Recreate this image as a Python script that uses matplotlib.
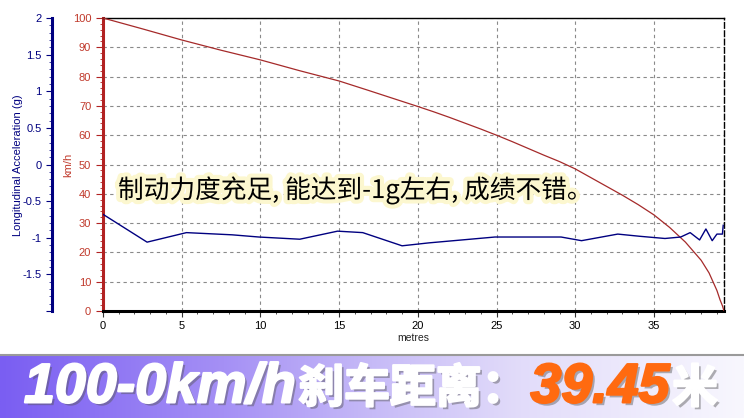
import matplotlib
matplotlib.use("Agg")
import matplotlib.pyplot as plt
import matplotlib.patheffects as pe
from matplotlib.ticker import MultipleLocator, FixedLocator, FixedFormatter
from matplotlib.colors import LinearSegmentedColormap
from matplotlib.offsetbox import TextArea, HPacker, AnchoredOffsetbox
import numpy as np

plt.rcParams['font.family'] = ['Liberation Sans', 'Noto Sans CJK SC', 'DejaVu Sans']

# ---- data ----
speed_dist = [0, 2.5, 5, 7.5, 10, 12.5, 15, 16.8, 20, 21, 22, 23, 24, 25, 26, 27, 28, 29,
              30, 31, 32, 33, 34, 35, 36, 37, 38, 38.5, 39.0, 39.2, 39.35, 39.45]
speed_kmh = [100, 96.3, 92.5, 89, 85.7, 82, 78.5, 75.4, 69.8, 68, 66.1, 64.1, 62.1, 60,
             57.8, 55.5, 53.2, 51.0, 48.5, 45.5, 42.5, 39.5, 36.3, 32.8, 28.5, 23.5,
             17.3, 13, 7.0, 3.8, 1.8, 0]

acc_dist = [0, 2.8, 5.3, 8.2, 9.9, 12.5, 14.9, 16.5, 19.0, 20.7, 24.9, 29.1, 30.4,
            32.7, 34.1, 35.7, 36.7, 37.3, 37.9, 38.3, 38.7, 39.0, 39.35, 39.4]
acc_g = [-0.68, -1.06, -0.93, -0.96, -0.99, -1.02, -0.91, -0.93, -1.11, -1.07, -0.99,
         -0.99, -1.04, -0.95, -0.98, -1.01, -0.99, -0.93, -1.03, -0.88, -1.04, -0.95,
         -0.95, -0.83]

x_ticks = [0, 5, 10, 15, 20, 25, 30, 35]
kmh_ticks = [0, 10, 20, 30, 40, 50, 60, 70, 80, 90, 100]
g_ticks = [-2, -1.5, -1, -0.5, 0, 0.5, 1, 1.5, 2]
g_labels = ['', '-1.5', '-1', '-0.5', '0', '0.5', '1', '1.5', '2']

annotation = '制动力度充足, 能达到-1g左右, 成绩不错。'
banner_parts = ['100-0km/h', '刹车距离：', '39.45', '米']

W, H = 744, 418
RED = '#a52a2a'
REDTXT = '#c0392b'
NAVY = '#000080'

fig = plt.figure(figsize=(W / 100, H / 100), dpi=100)
fig.patch.set_facecolor('white')

ax = fig.add_axes([103 / W, 1 - 311 / H, 621 / W, 293 / H])
ax.plot(speed_dist, speed_kmh, color=RED, lw=0.9, zorder=3)
ax.set_xlim(0, 39.45)
ax.set_ylim(0, 100)
ax.set_xticks(x_ticks)
ax.xaxis.set_minor_locator(MultipleLocator(1))
ax.set_yticks(kmh_ticks)
ax.yaxis.set_minor_locator(MultipleLocator(2))
ax.grid(True, which='major', ls=(0, (3, 3)), color='#8a8a8a', lw=0.8)
ax.spines['left'].set_color('#b22222')
ax.spines['left'].set_linewidth(2.2)
ax.spines['bottom'].set_color('black')
ax.spines['bottom'].set_linewidth(2.2)
ax.spines['top'].set_color('black')
ax.spines['top'].set_linewidth(1.0)
ax.spines['right'].set_color('black')
ax.spines['right'].set_linestyle((0, (4, 2)))
ax.spines['right'].set_linewidth(1.0)
ax.tick_params(axis='y', which='both', colors='#b22222', labelcolor=REDTXT, labelsize=8)
ax.tick_params(axis='y', which='major', length=5, width=0.8)
ax.tick_params(axis='y', which='minor', length=2.5, width=0.6)
ax.tick_params(axis='x', which='major', length=4, width=0.8, labelsize=8, colors='#333333', labelcolor='black')
ax.tick_params(axis='x', which='minor', length=2.5, width=0.6, colors='#333333')

ax2 = ax.twinx()
ax2.plot(acc_dist, acc_g, color=NAVY, lw=1.0, zorder=4)
ax2.set_ylim(-2, 2)
ax2.yaxis.tick_left()
ax2.yaxis.set_major_locator(FixedLocator(g_ticks))
ax2.yaxis.set_major_formatter(FixedFormatter(g_labels))
ax2.yaxis.set_minor_locator(MultipleLocator(0.1))
for s in ['right', 'top', 'bottom']:
    ax2.spines[s].set_visible(False)
ax2.spines['left'].set_position(('outward', 51 * 0.72))
ax2.spines['left'].set_color(NAVY)
ax2.spines['left'].set_linewidth(2.2)
ax2.tick_params(axis='y', which='both', colors=NAVY, labelcolor=NAVY, labelsize=8)
ax2.tick_params(axis='y', which='major', length=4, width=0.8)
ax2.tick_params(axis='y', which='minor', length=2, width=0.5)

fig.text(18 / W, 1 - 165 / H, 'Longitudinal Acceleration (g)', rotation=90,
         ha='center', va='center', color=NAVY, fontsize=8)
fig.text(68 / W, 1 - 165 / H, 'km/h', rotation=90, ha='center', va='center',
         color=REDTXT, fontsize=8)
fig.text(413 / W, 1 - 338 / H, 'metres', ha='center', va='center',
         color='#222222', fontsize=7.5)

fig.text(118 / W, 1 - 190 / H, annotation, ha='left', va='center', fontsize=18.5,
         family=['Noto Sans CJK SC', 'DejaVu Sans'], color='black', zorder=10,
         path_effects=[pe.withStroke(linewidth=6, foreground='#fcf7cf')])

# ---- banner ----
axb = fig.add_axes([0, 0, 1, 63 / H])
cmap = LinearSegmentedColormap.from_list(
    'ban', [(0, '#7a5ef2'), (0.3, '#a590f5'), (0.5, '#c6baf7'), (0.7, '#e2dcfa'),
            (1, '#f8f7fe')])
grad = np.linspace(0, 1, 256)[None, :]
axb.imshow(grad, aspect='auto', cmap=cmap, extent=[0, 1, 0, 1])
axb.set_xlim(0, 1)
axb.set_ylim(0, 1)
axb.axis('off')
fig.add_artist(plt.Line2D([0, 1], [63.5 / H, 63.5 / H], transform=fig.transFigure,
                          color='#9a9a9a', lw=1.5))

shadow = pe.SimplePatchShadow(offset=(2, -2), shadow_rgbFace='#555555', alpha=0.45)
fx_w = [shadow, pe.Stroke(linewidth=1.6, foreground='white'), pe.Normal()]
fx_o = [shadow, pe.Stroke(linewidth=1.6, foreground='#ff6a10'), pe.Normal()]
lat_w = dict(color='white', fontsize=40, fontweight='bold', fontstyle='italic',
             family=['Liberation Sans', 'Noto Sans CJK SC'], path_effects=fx_w)
cjk_w = dict(color='white', fontsize=33, fontweight='black',
             family=['Noto Sans CJK SC', 'Liberation Sans'], path_effects=fx_w)
lat_o = dict(lat_w, color='#ff6a10', path_effects=fx_o)

pack = HPacker(children=[TextArea(banner_parts[0], textprops=lat_w),
                         TextArea(banner_parts[1], textprops=cjk_w),
                         TextArea(banner_parts[2], textprops=lat_o),
                         TextArea(banner_parts[3], textprops=cjk_w)],
               pad=0, sep=2, align='baseline')
box = AnchoredOffsetbox(loc='center', child=pack, pad=0, borderpad=0, frameon=False,
                        bbox_to_anchor=(371 / W, 0.47), bbox_transform=axb.transAxes)
axb.add_artist(box)

fig.savefig('out.png', dpi=100, facecolor='white')
